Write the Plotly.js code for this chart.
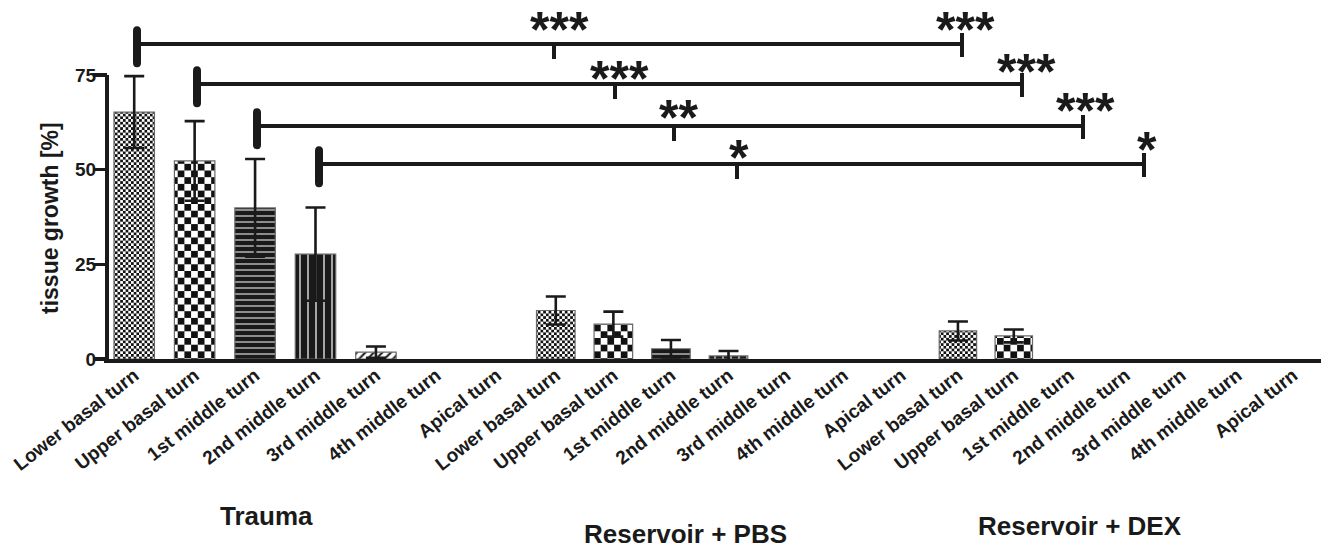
<!DOCTYPE html>
<html><head><meta charset="utf-8">
<script src="https://cdn.plot.ly/plotly-3.0.1.min.js"></script>
<style>html,body{margin:0;padding:0;background:#fff}#chart{width:1321px;height:548px}</style>
</head><body><div id="chart"></div>
<script>
// ---------------- data ----------------
const categories = ["Lower basal turn","Upper basal turn","1st middle turn","2nd middle turn","3rd middle turn","4th middle turn","Apical turn"];
const groups = ["Trauma","Reservoir + PBS","Reservoir + DEX"];
const traumaMean = [65.2, 52.3, 39.9, 27.7, 1.8, 0, 0];
const traumaSD   = [9.5, 10.5, 12.9, 12.3, 1.5, NaN, NaN];
const pbsMean    = [12.8, 9.2, 2.7, 0.8, 0, 0, 0];
const pbsSD      = [3.7, 3.3, 2.3, 1.3, NaN, NaN, NaN];
const dexMean    = [7.4, 6.1, 0, 0, 0, 0, 0];
const dexSD      = [2.5, 1.7, NaN, NaN, NaN, NaN, NaN];
const yTickVals  = [0, 25, 50, 75];
const yTickText  = ["0", "25", "50", "75"];
const midStars   = ["***", "***", "**", "*"];
const endStars   = ["***", "***", "***", "*"];

// ---------------- layout helpers ----------------
const W = 1321, H = 548, M = {l:104, r:0, t:3, b:189};
const PW = W - M.l - M.r, PH = H - M.t - M.b;
const px = x => (x - M.l) / PW;
const py = y => (H - M.b - y) / PH;
const INK = '#1a1a1a';
const FONT = 'Liberation Sans, Arial, Helvetica, sans-serif';

const doms = [[0, px(527)], [px(527), px(930)], [px(930), 1]];

const pattern = {
  shape:   ['.', '.', '-', '|', '/', '', ''],
  bgcolor: ['#ffffff', '#ffffff', INK, INK, '#ffffff', '#ffffff', '#ffffff'],
  fgcolor: [INK, INK, '#c8c8c8', '#c8c8c8', INK, INK, INK],
  size:    [4, 10, 6, 8, 6, 8, 8],
  solidity:[0.5, 0.5, 0.22, 0.2, 0.35, 0.3, 0.3],
  fillmode: 'replace'
};

function barTrace(mean, sd, k) {
  return {
    type: 'bar', x: categories, y: mean,
    xaxis: k === 0 ? 'x' : 'x' + (k + 1), yaxis: 'y',
    marker: {color: '#ffffff', line: {color: '#6a6a6a', width: mean.map(v => v > 0 ? 1.2 : 0)}, pattern: pattern},
    error_y: {type: 'data', array: sd, visible: true, color: INK, thickness: 2.6, width: 10},
    hoverinfo: 'skip', showlegend: false
  };
}
const data = [barTrace(traumaMean, traumaSD, 0), barTrace(pbsMean, pbsSD, 1), barTrace(dexMean, dexSD, 2)];

function xAxis(k) {
  return {
    domain: doms[k], anchor: 'y', type: 'category',
    showline: true, linewidth: 4, linecolor: INK, mirror: false,
    ticks: '', showgrid: false, zeroline: false, tickangle: -38, ticklabelstandoff: -6,
    tickfont: {family: FONT, size: 19, color: INK, weight: 'bold'},
    fixedrange: true
  };
}

// brackets (pixel positions from the figure)
const brY    = [44, 84, 126, 164];
const brL    = [137, 197, 257, 319];
const brMid  = [554, 615, 674, 737];
const brR    = [962, 1022, 1083, 1144];
const midLab = [[559, 20], [619, 69], [678, 108], [739, 148]];
const endLab = [[965, 20], [1026, 62], [1085, 101], [1147, 140]];

const shapes = [];
const annotations = [];
const lineP = (x0, y0, x1, y1, w) => ({type: 'line', xref: 'paper', yref: 'paper',
  x0: px(x0), y0: py(y0), x1: px(x1), y1: py(y1), line: {color: INK, width: w}});
// y-axis line 0..75
shapes.push({type: 'line', xref: 'paper', yref: 'y', x0: px(107), x1: px(107), y0: 0, y1: 75,
  line: {color: INK, width: 4}});
for (let i = 0; i < 4; i++) {
  const y = brY[i];
  shapes.push(lineP(brL[i], y, brR[i], y, 4));
  shapes.push(lineP(brR[i], y - 11, brR[i], y + 13, 4));
  shapes.push(lineP(brMid[i], y, brMid[i], y + 15, 4));
  shapes.push({type: 'path', xref: 'paper', yref: 'paper', xsizemode: 'pixel', ysizemode: 'pixel',
    xanchor: px(brL[i]), yanchor: py(y + 2.7),
    path: 'M -4,-16 L -4,16 Q -4,20.5 0,20.5 Q 4,20.5 4,16 L 4,-16 Q 4,-20.5 0,-20.5 Q -4,-20.5 -4,-16 Z',
    fillcolor: INK, line: {width: 0}});
}
const STAR_DY = 10;
function star(t, cx, cy) {
  return {xref: 'paper', yref: 'paper', x: px(cx), y: py(cy + STAR_DY), text: t, showarrow: false,
    xanchor: 'center', yanchor: 'middle', font: {family: FONT, size: 50, color: INK, weight: 'bold'}};
}
for (let i = 0; i < 4; i++) {
  annotations.push(star(midStars[i], midLab[i][0], midLab[i][1]));
  annotations.push(star(endStars[i], endLab[i][0], endLab[i][1]));
}
// group labels
const grpPos = [[266.5, 516], [685, 534], [1080, 526]];
groups.forEach((g, k) => annotations.push({xref: 'paper', yref: 'paper', x: px(grpPos[k][0]), y: py(grpPos[k][1]),
  text: g, showarrow: false, xanchor: 'center', yanchor: 'middle',
  font: {family: FONT, size: 26, color: INK, weight: 'bold'}}));
// y title
annotations.push({xref: 'paper', yref: 'paper', x: px(50), y: py(218), text: 'tissue growth [%]', textangle: -90,
  showarrow: false, xanchor: 'center', yanchor: 'middle', font: {family: FONT, size: 23, color: INK, weight: 'bold'}});

const layout = {
  width: W, height: H, margin: M, paper_bgcolor: '#fff', plot_bgcolor: '#fff',
  bargap: 0.33, showlegend: false, hovermode: false,
  xaxis: xAxis(0), xaxis2: xAxis(1), xaxis3: xAxis(2),
  yaxis: {range: [0, 94], anchor: 'free', position: px(107), showline: false, showgrid: false, zeroline: false,
    tickvals: yTickVals, ticktext: yTickText, ticks: 'outside', ticklen: 14, tickwidth: 3.5, tickcolor: INK,
    ticklabelstandoff: -7,
    tickfont: {family: FONT, size: 19, color: INK, weight: 'bold'}, fixedrange: true},
  shapes: shapes, annotations: annotations
};

function addChecker(defs, id, sq) {
  const ns = 'http://www.w3.org/2000/svg';
  const p = document.createElementNS(ns, 'pattern');
  p.setAttribute('id', id); p.setAttribute('patternUnits', 'userSpaceOnUse');
  p.setAttribute('width', 2 * sq); p.setAttribute('height', 2 * sq);
  const r = (x, y, w, h, c) => { const e = document.createElementNS(ns, 'rect');
    e.setAttribute('x', x); e.setAttribute('y', y); e.setAttribute('width', w); e.setAttribute('height', h);
    e.setAttribute('fill', c); p.appendChild(e); };
  r(0, 0, 2 * sq, 2 * sq, '#ffffff'); r(0, 0, sq, sq, '#111111'); r(sq, sq, sq, sq, '#111111');
  defs.appendChild(p);
}

const gd = document.getElementById('chart');
Plotly.newPlot(gd, data, layout, {staticPlot: true, displayModeBar: false, responsive: false}).then(() => {
  const svg = gd.querySelector('.main-svg');
  let defs = svg.querySelector('defs');
  if (!defs) { defs = document.createElementNS('http://www.w3.org/2000/svg', 'defs'); svg.insertBefore(defs, svg.firstChild); }
  addChecker(defs, 'chkFine', 2.7);
  addChecker(defs, 'chkCoarse', 6.7);
  gd.querySelectorAll('.barlayer .trace').forEach(tr => {
    const pts = tr.querySelectorAll('.point');
    if (pts[0]) { const p = pts[0].querySelector('path'); if (p) p.style.fill = 'url(#chkFine)'; }
    if (pts[1]) { const p = pts[1].querySelector('path'); if (p) p.style.fill = 'url(#chkCoarse)'; }
  });
});
</script></body></html>
